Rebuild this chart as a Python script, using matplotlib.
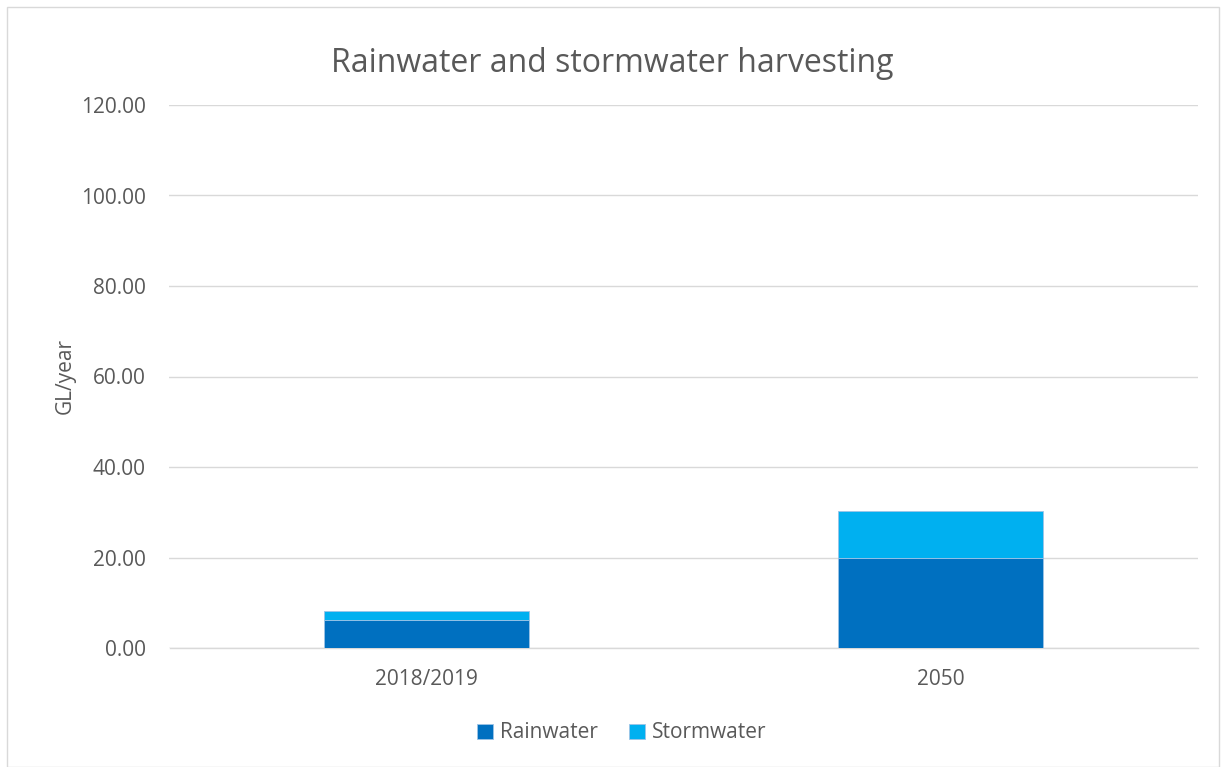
import matplotlib.pyplot as plt
from matplotlib.patches import Rectangle

categories = ["2018/2019", "2050"]
rainwater = [6.2, 19.8]
stormwater = [2.0, 10.5]
yticks = [0, 20, 40, 60, 80, 100, 120]

plt.rcParams['font.family'] = ['Open Sans', 'DejaVu Sans']
txt = "#595959"

fig = plt.figure(figsize=(12.26, 7.67), dpi=100)
ax = fig.add_axes([169.5 / 1226, 1 - 648 / 767, 1028 / 1226, 543 / 767])

x = range(len(categories))
ax.bar(x, rainwater, width=0.4, color="#0070C0", edgecolor="#9DC3E6", linewidth=0.6,
       label="Rainwater", zorder=3)
ax.bar(x, stormwater, width=0.4, bottom=rainwater, color="#00B0F0", edgecolor="#9DC3E6",
       linewidth=0.6, label="Stormwater", zorder=3)

ax.set_xlim(-0.5, 1.5)
ax.set_ylim(0, 120)
ax.set_yticks(yticks)
ax.set_yticklabels([f"{v:.2f}" for v in yticks], color=txt, fontsize=15)
ax.set_xticks(list(x))
ax.set_xticklabels(categories, color=txt, fontsize=15)
ax.tick_params(axis="y", length=0, pad=17)
ax.tick_params(axis="x", length=0, pad=15)
ax.grid(axis="y", color="#D9D9D9", linewidth=1, zorder=0)
for s in ["top", "right", "left"]:
    ax.spines[s].set_visible(False)
ax.spines["bottom"].set_color("#D9D9D9")
ax.spines["bottom"].set_linewidth(1)

ax.set_ylabel("GL/year", color=txt, fontsize=15, labelpad=4)
fig.text(612 / 1226, 1 - 64 / 767, "Rainwater and stormwater harvesting", color=txt,
         fontsize=23, ha="center", va="center")

fig.legend(loc="center", bbox_to_anchor=(622 / 1226, 1 - 733 / 767), ncol=2, frameon=False,
           fontsize=15, handlelength=0.75, handleheight=0.75, handletextpad=0.35,
           columnspacing=1.5, labelcolor=txt)

fig.patches.append(Rectangle((7 / 1226, 0), 1212 / 1226, 1 - 7 / 767, transform=fig.transFigure,
                             fill=False, edgecolor="#D9D9D9", linewidth=1))

fig.savefig("out.png", dpi=100)
